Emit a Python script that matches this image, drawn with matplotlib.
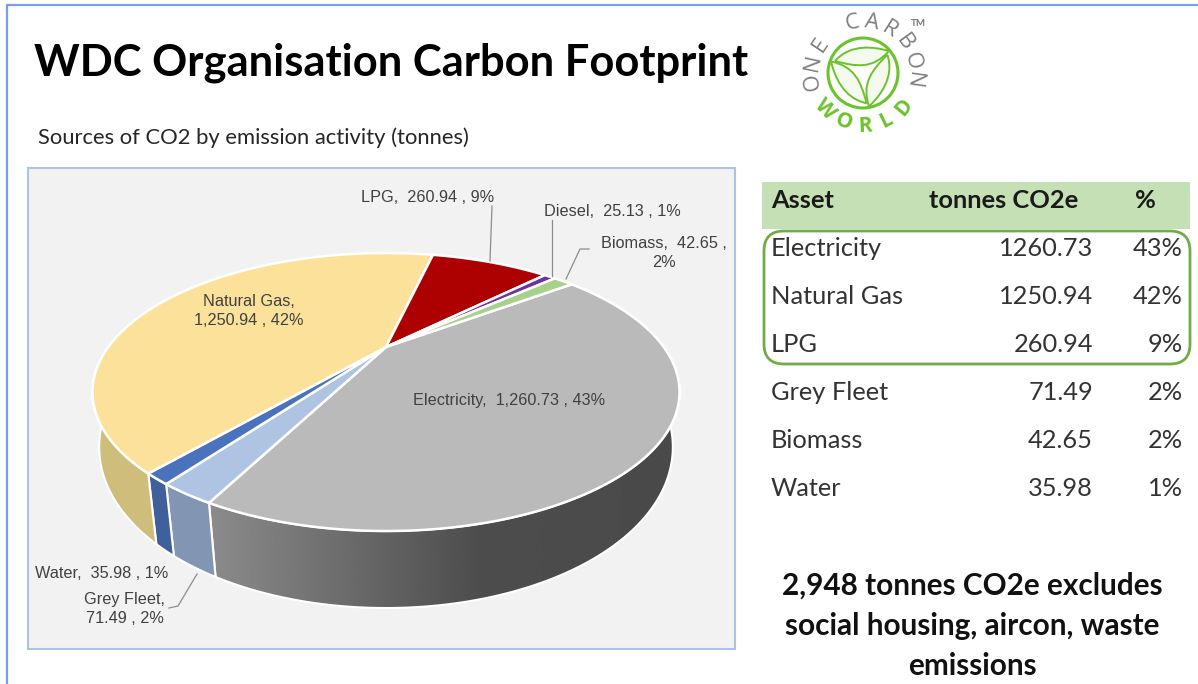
import numpy as np
import matplotlib
matplotlib.use('Agg')
import matplotlib.pyplot as plt
from matplotlib.patches import Rectangle, FancyBboxPatch, Polygon, Circle, PathPatch
from matplotlib.path import Path

# slices, clockwise starting from electricity
categories = ['Electricity', 'Grey Fleet', 'Water', 'Natural Gas', 'LPG', 'Diesel', 'Biomass']
tonnes = [1260.73, 71.49, 35.98, 1250.94, 260.94, 25.13, 42.65]
percents = [43, 2, 1, 42, 9, 1, 2]
top_colors = ['#bababa', '#afc3e2', '#4a72bd', '#fbe199', '#ad0000', '#7030a0', '#a9d18e']
side_colors = ['#666666', '#8296b3', '#40609c', '#cfbd7c', '#8a0000', '#5a2680', '#88a872']

# table
rows = ['Electricity', 'Natural Gas', 'LPG', 'Grey Fleet', 'Biomass', 'Water']
row_tonnes = ['1260.73', '1250.94', '260.94', '71.49', '42.65', '35.98']
row_pct = ['43%', '42%', '9%', '2%', '2%', '1%']

DARK = '#404040'
plt.rcParams['font.family'] = ['Lato', 'DejaVu Sans']

fig = plt.figure(figsize=(11.98, 6.84), dpi=100)
ax = fig.add_axes([0, 0, 1, 1])
ax.set_xlim(0, 1198)
ax.set_ylim(684, 0)
ax.axis('off')

# outer slide border
ax.plot([7, 7, 1198], [684, 5, 5], color='#7b9cf0', lw=1.6, zorder=1)

ax.text(34, 63, 'WDC Organisation Carbon Footprint', fontsize=31.3, fontweight='bold',
        color='black', va='center', ha='left')
ax.text(38, 138, 'Sources of CO2 by emission activity (tonnes)', fontsize=15.8,
        color='#262626', va='center', ha='left')

# chart panel
ax.add_patch(Rectangle((28, 168), 707, 481, fc='#f2f2f2', ec='#a9c4e4', lw=1.5, zorder=1))

# perspective pie: circle mapped so the centre lands on the apex
AX, AY = 386, 347
R, H, C = 277.7, 124.4, 0.324
START = 37


def top_xy(deg):
    t = np.radians(deg)
    den = 1 + C * np.sin(t)
    return AX + R * np.cos(t) / den, AY - H * np.sin(t) / den


def bottom_xy(deg):
    # rim is shallower and less narrowed towards the left and right ends
    x, y = top_xy(deg)
    front = np.abs(np.sin(np.radians(deg)))
    return AX + (x - AX) * (0.985 - 0.025 * front), y + 50 + 27 * front


fractions = np.array(tonnes) / sum(tonnes)
edges = START - 360 * np.concatenate([[0], np.cumsum(fractions)])

# sides first, only the front facing part of the rim
for i, col in enumerate(side_colors):
    a0, a1 = edges[i], edges[i + 1]
    lo, hi = max(a1, -185), min(a0, 5)
    if lo >= hi:
        continue
    t = np.linspace(lo, hi, 120)
    tx, ty = top_xy(t)
    bx, by = bottom_xy(t)
    pts = np.column_stack([np.r_[tx, bx[::-1]], np.r_[ty, by[::-1]]])
    if categories[i] == 'Electricity':
        # shaded rim, light on the left going dark to the right
        ax.add_patch(Polygon(pts, fc='none', ec='white', lw=1.5, zorder=3))
        grad = np.interp(np.linspace(0, 1, 256), [0, 0.58, 1], [0.55, 0.30, 0.29]).reshape(1, -1)
        im = ax.imshow(grad, cmap='gray', vmin=0, vmax=1, extent=(205, 680, 610, 280),
                       aspect='auto', zorder=2.9)
        im.set_clip_path(Polygon(pts, transform=ax.transData))
    else:
        ax.add_patch(Polygon(pts, fc=col, ec='white', lw=1.5, zorder=3))
ax.set_xlim(0, 1198)
ax.set_ylim(684, 0)

# top surface
for i, col in enumerate(top_colors):
    t = np.linspace(edges[i], edges[i + 1], 200)
    x, y = top_xy(t)
    pts = np.column_stack([np.r_[AX, x], np.r_[AY, y]])
    ax.add_patch(Polygon(pts, fc=col, ec='white', lw=1.8, joinstyle='round', zorder=4))

# data labels, same text as the chart: name, value, percent
label_font = dict(family='Liberation Sans', fontsize=11.7, color=DARK, zorder=6)


def pie_label(i, x, y, split=False, ha='center'):
    val = f'{tonnes[i]:,.2f}'
    if split == 'name':
        s = f'{categories[i]},\n{val} , {percents[i]}%'
    elif split == 'pct':
        s = f'{categories[i]},  {val} ,\n{percents[i]}%'
    else:
        s = f'{categories[i]},  {val} , {percents[i]}%'
    ax.text(x, y, s, ha=ha, va='center', linespacing=1.4, **label_font)


pie_label(0, 509, 400)
pie_label(1, 125, 609, split='name')
pie_label(2, 102, 574)
pie_label(3, 249, 311, split='name')
pie_label(4, 428, 197)
pie_label(5, 612, 212)
pie_label(6, 664, 253, split='pct')

# leader lines
leader = dict(color='#8c8c8c', lw=0.9, zorder=5)
ax.plot([492, 490], [206, 261], **leader)
ax.plot([552, 552], [220, 276], **leader)
ax.plot([566, 580, 589], [279, 249, 249], **leader)
ax.plot([197, 178, 169], [574, 606, 608], **leader)

# table
ax.add_patch(Rectangle((762, 182), 428, 47, fc='#c5e0b4', ec='none', zorder=1))
head = dict(fontsize=18.3, fontweight='bold', color='#1a1a1a', va='center')
ax.text(771, 201, 'Asset', ha='left', **head)
ax.text(1078, 201, 'tonnes CO2e', ha='right', **head)
ax.text(1145, 201, '%', ha='center', **head)
ax.add_patch(FancyBboxPatch((776, 243), 402, 109, boxstyle='round,pad=12,rounding_size=20',
                            fc='none', ec='#70ad47', lw=2, zorder=2))
row_y = [249, 297, 345, 393, 441, 489]
for name, val, pct, y in zip(rows, row_tonnes, row_pct, row_y):
    body = dict(fontsize=18.3, color='#333333', va='center')
    ax.text(771, y, name, ha='left', **body)
    ax.text(1093, y, val, ha='right', **body)
    ax.text(1183, y, pct, ha='right', **body)

ax.text(972, 626, '2,948 tonnes CO2e excludes\nsocial housing, aircon, waste\nemissions',
        ha='center', va='center', fontsize=21.4, fontweight='bold', color='#111111', linespacing=1.52)

# logo
LX, LY = 863, 73
GREEN = '#6cc22c'
ax.add_patch(Circle((LX, LY), 35, fc='white', ec=GREEN, lw=2.2, zorder=3))
for rot in [0, 120, 240]:
    a = np.radians(rot)
    c, s = np.cos(a), np.sin(a)
    leaf = np.array([[-28, -12], [-12, -30], [12, -26], [26, -22], [10, -4], [-6, -6], [-28, -12]], float)
    xy = np.column_stack([LX + leaf[:, 0] * c - leaf[:, 1] * s, LY + leaf[:, 0] * s + leaf[:, 1] * c])
    codes = [Path.MOVETO, Path.CURVE4, Path.CURVE4, Path.CURVE4, Path.CURVE4, Path.CURVE4, Path.CURVE4]
    ax.add_patch(PathPatch(Path(xy, codes), fc='#f4fbee', ec=GREEN, lw=1.4, zorder=4))


def arc_text(text, start, step, radius, bottom=False, **kw):
    for j, ch in enumerate(text):
        a = start + j * step
        r = np.radians(a)
        x = LX + radius * np.cos(r)
        y = LY - radius * np.sin(r)
        rot = a + 90 if bottom else a - 90
        ax.text(x, y, ch, rotation=rot, rotation_mode='anchor', ha='center', va='center', **kw)


arc_text('ONE CARBON', 190, -22, 51, fontsize=16, color='#7f7f7f', family='Open Sans')
arc_text('WORLD', 224, 24, 53, bottom=True, fontsize=15, fontweight='bold', color=GREEN, family='Open Sans')
ax.text(918, 23, 'TM', fontsize=7, color='#777777', ha='center', va='center', fontweight='bold')

fig.savefig('out.png', dpi=100)
